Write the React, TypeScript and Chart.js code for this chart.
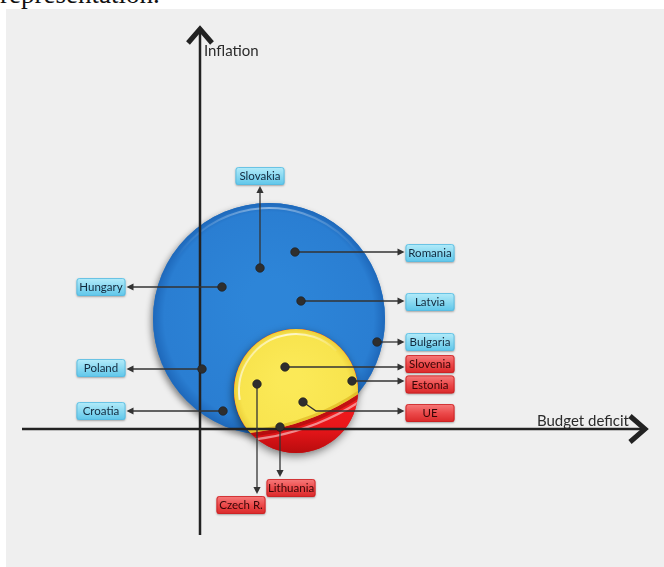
import React, { useEffect, useRef } from "react";
import { Chart, registerables } from "chart.js";

Chart.register(...registerables);

// ---- data ----
const countries = ["Slovakia", "Romania", "Hungary", "Latvia", "Bulgaria", "Poland", "Croatia", "Slovenia", "Estonia", "UE", "Lithuania", "Czech R."];
const deficit = [3.0, 4.75, 1.1, 5.05, 8.85, 0.1, 1.15, 4.25, 7.6, 5.15, 4.0, 2.85];
const inflation = [8.05, 8.85, 7.1, 6.4, 4.35, 3.0, 0.9, 3.1, 2.4, 1.35, 0.1, 2.25];
const labelX = [3.0, 11.5, -4.95, 11.5, 11.5, -4.95, -4.95, 11.5, 11.5, 11.5, 4.55, 2.05];
const labelY = [12.65, 8.8, 7.1, 6.35, 4.35, 3.05, 0.9, 3.25, 2.23, 0.8, -2.95, -3.8];
const labelGroup = ["blue", "blue", "blue", "blue", "blue", "blue", "blue", "red", "red", "red", "red", "red"];
const connector = ["up", "right", "left", "right", "right", "left", "left", "right", "right", "elbow", "down", "down"];

const groupNames = ["Non-euro", "Euro"];
const groupX = [3.45, 4.8];
const groupY = [5.5, 1.9];
const groupR = [5.8, 3.1];
// boundary of the red share inside the euro bubble
const cutX = [1.3];
const cutY = [11.7];
const cutR = [11.95];

const xRange = [-9.7, 23.2];
const yRange = [-6.9, 21];
const xAxisSpan = [-8.9, 22.45];
const yAxisSpan = [-5.3, 20.15];
const xTitle = "Budget deficit";
const yTitle = "Inflation";

const LABEL_FONT = "11.5px Lato, 'Open Sans', sans-serif";
const TITLE_FONT = "15px Lato, 'Open Sans', sans-serif";

function roundRect(ctx: CanvasRenderingContext2D, x: number, y: number, w: number, h: number, r: number) {
  ctx.beginPath();
  ctx.moveTo(x + r, y);
  ctx.lineTo(x + w - r, y);
  ctx.quadraticCurveTo(x + w, y, x + w, y + r);
  ctx.lineTo(x + w, y + h - r);
  ctx.quadraticCurveTo(x + w, y + h, x + w - r, y + h);
  ctx.lineTo(x + r, y + h);
  ctx.quadraticCurveTo(x, y + h, x, y + h - r);
  ctx.lineTo(x, y + r);
  ctx.quadraticCurveTo(x, y, x + r, y);
  ctx.closePath();
}

function arrowHead(ctx: CanvasRenderingContext2D, tx: number, ty: number, dir: string) {
  const L = 7, W = 3.6;
  ctx.beginPath();
  if (dir === "right") { ctx.moveTo(tx, ty); ctx.lineTo(tx - L, ty - W); ctx.lineTo(tx - L, ty + W); }
  if (dir === "left") { ctx.moveTo(tx, ty); ctx.lineTo(tx + L, ty - W); ctx.lineTo(tx + L, ty + W); }
  if (dir === "up") { ctx.moveTo(tx, ty); ctx.lineTo(tx - W, ty + L); ctx.lineTo(tx + W, ty + L); }
  if (dir === "down") { ctx.moveTo(tx, ty); ctx.lineTo(tx - W, ty - L); ctx.lineTo(tx + W, ty - L); }
  ctx.closePath();
  ctx.fill();
}

const infographic = {
  id: "infographic",
  beforeDatasetsDraw(chart: any) {
    const ctx: CanvasRenderingContext2D = chart.ctx;
    const xs = chart.scales.x, ys = chart.scales.y;
    const px = (v: number) => xs.getPixelForValue(v);
    const py = (v: number) => ys.getPixelForValue(v);
    const unit = px(1) - px(0);

    // ---- blue bubble ----
    {
      const cx = px(groupX[0]), cy = py(groupY[0]), r = groupR[0] * unit;
      ctx.save();
      ctx.shadowColor = "rgba(0,0,0,0.45)";
      ctx.shadowBlur = 6;
      ctx.shadowOffsetX = -2;
      ctx.shadowOffsetY = 3;
      ctx.beginPath();
      ctx.arc(cx, cy, r, 0, Math.PI * 2);
      ctx.fillStyle = "#2a7dd0";
      ctx.fill();
      ctx.restore();
      const g = ctx.createRadialGradient(cx, cy - r * 0.15, r * 0.2, cx, cy, r);
      g.addColorStop(0, "#2d85d8");
      g.addColorStop(0.88, "#2a7ed2");
      g.addColorStop(1, "#1e68ba");
      ctx.beginPath();
      ctx.arc(cx, cy, r, 0, Math.PI * 2);
      ctx.fillStyle = g;
      ctx.fill();
      const hg = ctx.createLinearGradient(cx - r, 0, cx + r, 0);
      hg.addColorStop(0.1, "rgba(255,255,255,0)");
      hg.addColorStop(0.5, "rgba(255,255,255,0.45)");
      hg.addColorStop(0.9, "rgba(255,255,255,0)");
      ctx.beginPath();
      ctx.arc(cx, cy, r - 5, Math.PI * 1.1, Math.PI * 1.9);
      ctx.strokeStyle = hg;
      ctx.lineWidth = 2;
      ctx.stroke();
    }

    // ---- euro bubble (yellow with red share) ----
    {
      const ex = px(groupX[1]), ey = py(groupY[1]), er = groupR[1] * unit;
      const kx = px(cutX[0]), ky = py(cutY[0]), kr = cutR[0] * unit;
      ctx.save();
      ctx.shadowColor = "rgba(0,0,0,0.5)";
      ctx.shadowBlur = 8;
      ctx.shadowOffsetX = -1;
      ctx.shadowOffsetY = 3;
      ctx.beginPath();
      ctx.arc(ex, ey, er, 0, Math.PI * 2);
      ctx.fillStyle = "#e0181b";
      ctx.fill();
      ctx.restore();

      ctx.save();
      ctx.beginPath();
      ctx.arc(ex, ey, er, 0, Math.PI * 2);
      ctx.clip();
      const rg = ctx.createLinearGradient(0, ey, 0, ey + er);
      rg.addColorStop(0, "#f21d1f");
      rg.addColorStop(0.6, "#e8161a");
      rg.addColorStop(1, "#b90c0e");
      ctx.fillStyle = rg;
      ctx.fillRect(ex - er, ey - er, er * 2, er * 2);
      // shade under yellow
      ctx.beginPath();
      ctx.arc(kx, ky, kr + 2, 0, Math.PI * 2);
      ctx.strokeStyle = "rgba(110,0,0,0.35)";
      ctx.lineWidth = 4;
      ctx.stroke();
      // gloss streak on red
      ctx.beginPath();
      ctx.arc(kx, ky, kr + 7, 0, Math.PI * 2);
      ctx.strokeStyle = "rgba(255,255,255,0.5)";
      ctx.lineWidth = 2.2;
      ctx.stroke();
      // yellow part
      ctx.beginPath();
      ctx.arc(kx, ky, kr, 0, Math.PI * 2);
      ctx.clip();
      const yg = ctx.createRadialGradient(ex - er * 0.1, ey - er * 0.2, er * 0.2, ex, ey, er);
      yg.addColorStop(0, "#fbe957");
      yg.addColorStop(0.85, "#f8e44e");
      yg.addColorStop(1, "#ecd03a");
      ctx.fillStyle = yg;
      ctx.fillRect(ex - er, ey - er, er * 2, er * 2);
      ctx.beginPath();
      ctx.arc(kx, ky, kr - 1.5, 0, Math.PI * 2);
      ctx.strokeStyle = "rgba(215,170,20,0.55)";
      ctx.lineWidth = 3;
      ctx.stroke();
      ctx.restore();

      const hg = ctx.createLinearGradient(ex - er, ey - er, ex + er * 0.3, ey);
      hg.addColorStop(0, "rgba(255,255,255,0)");
      hg.addColorStop(0.45, "rgba(255,255,255,0.75)");
      hg.addColorStop(1, "rgba(255,255,255,0)");
      ctx.beginPath();
      ctx.arc(ex, ey, er - 5, Math.PI * 0.95, Math.PI * 1.75);
      ctx.strokeStyle = hg;
      ctx.lineWidth = 2;
      ctx.stroke();
    }

    // ---- axes ----
    const ox = px(0), oy = py(0);
    ctx.save();
    ctx.strokeStyle = "#222";
    ctx.fillStyle = "#222";
    ctx.lineWidth = 2.5;
    ctx.beginPath();
    ctx.moveTo(px(xAxisSpan[0]), oy);
    ctx.lineTo(px(xAxisSpan[1]) - 4, oy);
    ctx.stroke();
    ctx.beginPath();
    ctx.moveTo(ox, py(yAxisSpan[0]));
    ctx.lineTo(ox, py(yAxisSpan[1]) + 4);
    ctx.stroke();
    ctx.lineWidth = 5;
    ctx.lineJoin = "miter";
    ctx.lineCap = "butt";
    const tY = py(yAxisSpan[1]) + 3;
    ctx.beginPath();
    ctx.moveTo(ox - 12, tY + 14);
    ctx.lineTo(ox, tY);
    ctx.lineTo(ox + 12, tY + 14);
    ctx.stroke();
    const rX = px(xAxisSpan[1]) - 4;
    ctx.beginPath();
    ctx.moveTo(rX - 15, oy - 13);
    ctx.lineTo(rX, oy);
    ctx.lineTo(rX - 15, oy + 13);
    ctx.stroke();
    ctx.restore();

    // ---- connectors ----
    ctx.save();
    ctx.strokeStyle = "#333";
    ctx.fillStyle = "#333";
    ctx.lineWidth = 1.3;
    const hw = 24.5, hh = 9;
    countries.forEach((_, i) => {
      const dx = px(deficit[i]), dy = py(inflation[i]);
      const lx = px(labelX[i]), ly = py(labelY[i]);
      const c = connector[i];
      ctx.beginPath();
      if (c === "right") {
        const tx = lx - hw - 1;
        ctx.moveTo(dx, dy); ctx.lineTo(tx - 5, dy); ctx.stroke();
        arrowHead(ctx, tx, dy, "right");
      } else if (c === "left") {
        const tx = lx + hw + 1;
        ctx.moveTo(dx, dy); ctx.lineTo(tx + 5, dy); ctx.stroke();
        arrowHead(ctx, tx, dy, "left");
      } else if (c === "up") {
        const ty = ly + hh + 1;
        ctx.moveTo(dx, dy); ctx.lineTo(dx, ty + 5); ctx.stroke();
        arrowHead(ctx, dx, ty, "up");
      } else if (c === "down") {
        const ty = ly - hh - 2;
        ctx.moveTo(dx, dy); ctx.lineTo(dx, ty - 5); ctx.stroke();
        arrowHead(ctx, dx, ty, "down");
      } else if (c === "elbow") {
        const hy = ly - 2;
        const tx = lx - hw - 1;
        ctx.moveTo(dx, dy);
        ctx.lineTo(dx + (hy - dy) * 1.45, hy);
        ctx.lineTo(tx - 5, hy);
        ctx.stroke();
        arrowHead(ctx, tx, hy, "right");
      }
    });
    ctx.restore();
  },
  afterDatasetsDraw(chart: any) {
    const ctx: CanvasRenderingContext2D = chart.ctx;
    const xs = chart.scales.x, ys = chart.scales.y;
    const px = (v: number) => xs.getPixelForValue(v);
    const py = (v: number) => ys.getPixelForValue(v);
    const hw = 24.5, hh = 9;

    countries.forEach((name, i) => {
      const lx = px(labelX[i]), ly = py(labelY[i]);
      const blue = labelGroup[i] === "blue";
      ctx.save();
      ctx.shadowColor = "rgba(0,0,0,0.3)";
      ctx.shadowBlur = 2;
      ctx.shadowOffsetY = 1;
      roundRect(ctx, lx - hw, ly - hh, hw * 2, hh * 2, 2.5);
      const g = ctx.createLinearGradient(0, ly - hh, 0, ly + hh);
      if (blue) {
        g.addColorStop(0, "#b4ecfa");
        g.addColorStop(0.5, "#8ad9f1");
        g.addColorStop(1, "#5ec6ea");
      } else {
        g.addColorStop(0, "#f67c7c");
        g.addColorStop(0.5, "#ec4a4b");
        g.addColorStop(1, "#da2829");
      }
      ctx.fillStyle = g;
      ctx.fill();
      ctx.restore();
      ctx.save();
      roundRect(ctx, lx - hw + 0.5, ly - hh + 0.5, hw * 2 - 1, hh * 2 - 1, 2.5);
      ctx.strokeStyle = blue ? "#58b9de" : "#c92224";
      ctx.lineWidth = 0.8;
      ctx.stroke();
      ctx.font = LABEL_FONT;
      ctx.fillStyle = blue ? "#12293d" : "#380606";
      ctx.textAlign = "center";
      ctx.textBaseline = "middle";
      ctx.fillText(name, lx, ly + 0.5);
      ctx.restore();
    });

    // axis titles
    ctx.save();
    ctx.font = TITLE_FONT;
    ctx.fillStyle = "#2b2b2b";
    ctx.textBaseline = "alphabetic";
    ctx.textAlign = "left";
    ctx.fillText(yTitle, px(0) + 4, py(yAxisSpan[1]) + 30);
    ctx.textAlign = "right";
    ctx.fillText(xTitle, px(xAxisSpan[1]) - 20, py(0) - 3);
    ctx.restore();
  },
};

export default function App() {
  const ref = useRef<HTMLCanvasElement | null>(null);
  useEffect(() => {
    document.body.style.margin = "0";
    if (!ref.current) return;
    const chart = new Chart(ref.current, {
      type: "bubble",
      data: {
        datasets: [
          {
            label: "groups",
            data: groupX.map((x, i) => ({ x, y: groupY[i], r: groupR[i] })),
            backgroundColor: "rgba(0,0,0,0)",
            borderWidth: 0,
          } as any,
          {
            type: "scatter",
            label: "countries",
            data: deficit.map((x, i) => ({ x, y: inflation[i] })),
            pointRadius: 4.3,
            backgroundColor: "#2e2e2e",
            borderColor: "#1c1c1c",
            borderWidth: 0.6,
          } as any,
        ],
      },
      options: {
        responsive: false,
        animation: false,
        events: [],
        layout: { padding: 0, autoPadding: false },
        plugins: { legend: { display: false }, tooltip: { enabled: false } },
        scales: {
          x: { type: "linear", min: xRange[0], max: xRange[1], display: false },
          y: { type: "linear", min: yRange[0], max: yRange[1], display: false },
        },
      },
      plugins: [infographic],
    });
    return () => chart.destroy();
  }, []);

  return (
    <div style={{ position: "relative", width: 664, height: 567, overflow: "hidden", background: "#ffffff" }}>
      <div
        style={{
          position: "absolute",
          left: 0,
          top: -19,
          font: "27px/27px 'Liberation Serif', serif",
          color: "#111",
          whiteSpace: "nowrap",
        }}
      >
        representation.
      </div>
      <div style={{ position: "absolute", left: 6, top: 9, width: 658, height: 558, background: "#efefef" }}>
        <canvas ref={ref} width={658} height={558} style={{ display: "block" }} />
      </div>
    </div>
  );
}
